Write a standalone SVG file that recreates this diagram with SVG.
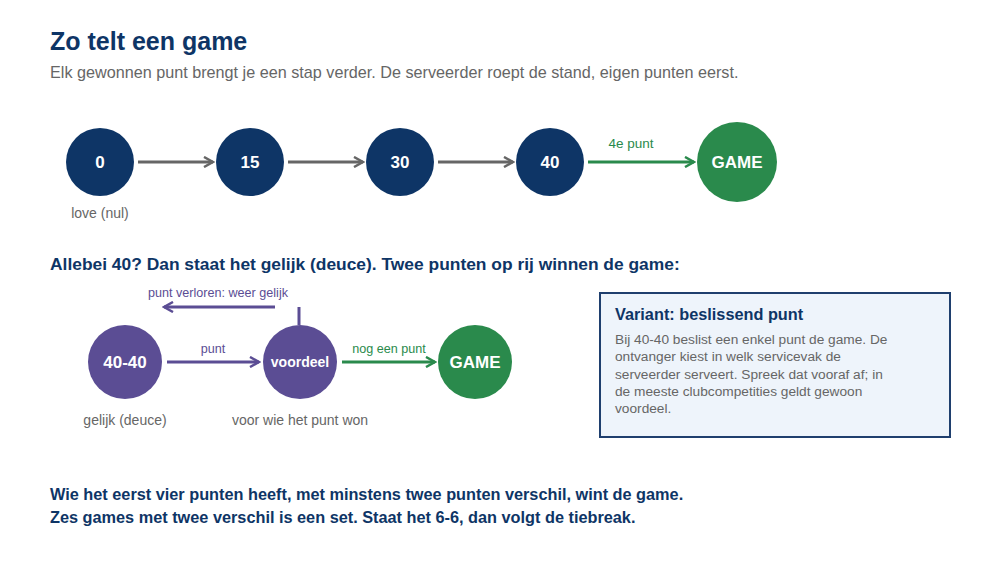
<svg xmlns="http://www.w3.org/2000/svg" width="1000" height="562" viewBox="0 0 1000 562">
<defs>
<style>
text{font-family:"Liberation Sans",Arial,sans-serif}
.title{font-size:25px;font-weight:bold;fill:#0e3566}
.sub{font-size:16.2px;fill:#666}
.h2{font-size:17.4px;font-weight:bold;fill:#0e3566}
.h3{font-size:16.3px;font-weight:bold;fill:#0e3566}
.nl{font-size:17px;font-weight:bold;fill:#fff;text-anchor:middle}
.nls{font-size:14px;font-weight:bold;fill:#fff;text-anchor:middle}
.cap{font-size:14px;fill:#666;text-anchor:middle}
.el{font-size:12.6px;text-anchor:middle}
.navy{fill:#0e3566}
.purple{fill:#5b4d94}
.green{fill:#2a8a4c}
.body{font-size:13.7px;fill:#666}
.boxt{font-size:16.3px;font-weight:bold;fill:#0e3566}
</style>
<marker id="ag" viewBox="0 0 12 12" refX="10" refY="6" markerWidth="12" markerHeight="12" markerUnits="userSpaceOnUse" orient="auto"><path d="M1,1 L10,6 L1,11" fill="none" stroke="#666" stroke-width="2.5"/></marker>
<marker id="agr" viewBox="0 0 12 12" refX="10" refY="6" markerWidth="12" markerHeight="12" markerUnits="userSpaceOnUse" orient="auto"><path d="M1,1 L10,6 L1,11" fill="none" stroke="#2a8a4c" stroke-width="2.5"/></marker>
<marker id="ap" viewBox="0 0 12 12" refX="10" refY="6" markerWidth="12" markerHeight="12" markerUnits="userSpaceOnUse" orient="auto"><path d="M1,1 L10,6 L1,11" fill="none" stroke="#5b4d94" stroke-width="2.5"/></marker>
</defs>
<rect width="1000" height="562" fill="#fff"/>
<text class="title" x="50" y="50">Zo telt een game</text>
<text class="sub" x="50" y="78">Elk gewonnen punt brengt je een stap verder. De serveerder roept de stand, eigen punten eerst.</text>

<g id="connectors">
<g fill="none" stroke-width="3">
<line x1="138" y1="162" x2="213" y2="162" stroke="#666" marker-end="url(#ag)"/>
<line x1="288" y1="162" x2="363" y2="162" stroke="#666" marker-end="url(#ag)"/>
<line x1="438" y1="162" x2="513" y2="162" stroke="#666" marker-end="url(#ag)"/>
<line x1="588" y1="162" x2="694" y2="162" stroke="#2a8a4c" marker-end="url(#agr)"/>
<line x1="167" y1="362" x2="259" y2="362" stroke="#5b4d94" marker-end="url(#ap)"/>
<line x1="342" y1="362" x2="435" y2="362" stroke="#2a8a4c" marker-end="url(#agr)"/>
<line x1="299" y1="325" x2="299" y2="307" stroke="#5b4d94"/>
<line x1="275" y1="307" x2="164" y2="307" stroke="#5b4d94" marker-end="url(#ap)"/>
</g>
<text class="el green" x="631" y="148" style="font-size:13.5px">4e punt</text>
<text class="el purple" x="213" y="353">punt</text>
<text class="el green" x="389" y="353">nog een punt</text>
<text class="el purple" x="218" y="297">punt verloren: weer gelijk</text>
</g>

<g id="n0"><circle cx="100" cy="162" r="34" fill="#0e3566"/><text class="nl" x="100" y="168">0</text><text class="cap" x="100" y="218">love (nul)</text></g>
<g id="n15"><circle cx="250" cy="162" r="34" fill="#0e3566"/><text class="nl" x="250" y="168">15</text></g>
<g id="n30"><circle cx="400" cy="162" r="34" fill="#0e3566"/><text class="nl" x="400" y="168">30</text></g>
<g id="n40"><circle cx="550" cy="162" r="34" fill="#0e3566"/><text class="nl" x="550" y="168">40</text></g>
<g id="game1"><circle cx="737" cy="162" r="40" fill="#2a8a4c"/><text class="nl" x="737" y="168">GAME</text></g>

<text class="h2" x="50" y="270">Allebei 40? Dan staat het gelijk (deuce). Twee punten op rij winnen de game:</text>

<g id="deuce"><circle cx="125" cy="362" r="37" fill="#5b4d94"/><text class="nl" x="125" y="368">40-40</text><text class="cap" x="125" y="425">gelijk (deuce)</text></g>
<g id="voordeel"><circle cx="300" cy="362" r="37" fill="#5b4d94"/><text class="nls" x="300" y="367">voordeel</text><text class="cap" x="300" y="425">voor wie het punt won</text></g>
<g id="game2"><circle cx="475" cy="362" r="37" fill="#2a8a4c"/><text class="nl" x="475" y="368">GAME</text></g>

<g id="variant">
<rect x="600" y="293" width="350" height="144" fill="#eef4fb" stroke="#1f3f6e" stroke-width="2"/>
<text class="boxt" x="615" y="320">Variant: beslissend punt</text>
<text class="body" x="615" y="344">Bij 40-40 beslist een enkel punt de game. De</text>
<text class="body" x="615" y="361">ontvanger kiest in welk servicevak de</text>
<text class="body" x="615" y="379">serveerder serveert. Spreek dat vooraf af; in</text>
<text class="body" x="615" y="396">de meeste clubcompetities geldt gewoon</text>
<text class="body" x="615" y="413">voordeel.</text>
</g>

<text class="h3" x="50" y="500">Wie het eerst vier punten heeft, met minstens twee punten verschil, wint de game.</text>
<text class="h3" x="50" y="523">Zes games met twee verschil is een set. Staat het 6-6, dan volgt de tiebreak.</text>
</svg>
